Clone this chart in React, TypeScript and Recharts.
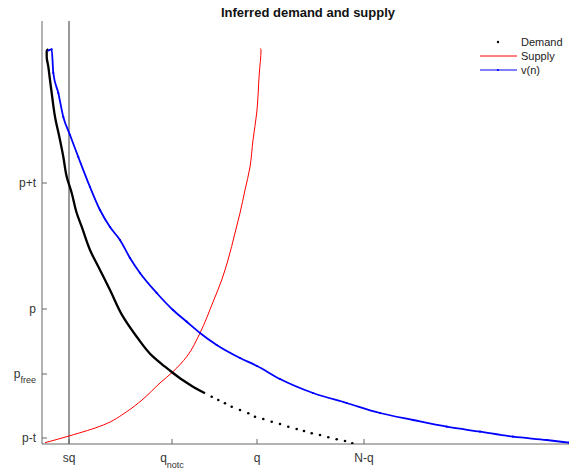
import { ComposedChart, Line, XAxis, YAxis, ReferenceLine } from 'recharts';

const FONT = '"Liberation Sans", Arial, Helvetica, sans-serif';
const AXIS = '#666';

// tick positions + labels (main text, subscript)
const xTicks = [27, 130, 215, 322];
const xTickLabels = [['sq', ''], ['q', 'notc'], ['q', ''], ['N-q', '']];
const yTicks = [6, 70, 135, 261];
const yTickLabels = [['p-t', ''], ['p', 'free'], ['p', ''], ['p+t', '']];
const sqLevel = 27;

// demand, dense part (reads as a solid line)
const demandSolid: [number, number][] = [
  [6.3, 394.7], [4.7, 393.3], [4.7, 387.3], [6.3, 377.3], [8, 364], [9.7, 351],
  [13, 327.3], [18, 304], [21.3, 287.3], [24.7, 267.3], [29.7, 251], [34.7, 231],
  [39.7, 217.3], [48, 194], [58, 174], [68, 154], [81, 127.3], [94.7, 107.3],
  [111, 87.3], [123, 77.3], [131, 71], [141, 63.7], [151, 57.3], [163, 50.7],
];

// demand, sparse tail (separate dots)
const demandDots: [number, number][] = [
  [169.7, 47.3], [176.3, 44], [183, 40.7], [189.7, 37.3], [198, 34], [206.3, 30.7],
  [213, 27.3], [221.3, 25], [229.7, 22.3], [238, 20], [246.3, 17.3], [254.7, 15],
  [262, 13], [269.7, 10.7], [278, 9], [286.3, 6.7], [294.7, 4.7], [303, 3], [310.3, 0.7],
];

const supply: [number, number][] = [
  [3, 1.3], [27, 8], [61.3, 19], [84.7, 32.3], [100, 44], [118, 61], [131, 72.3],
  [144.7, 87.3], [158, 111], [171, 142], [179.7, 164], [186, 184], [193, 211],
  [198, 231], [203, 254], [208, 277], [211, 304], [214.7, 331], [217.3, 371],
  [219, 394], [218.3, 395.5],
];

const vn: [number, number][] = [
  [6.5, 393.5], [9.7, 394.7], [11.3, 371], [16.3, 351], [21.3, 327], [28, 309],
  [36.3, 287], [48, 257], [58, 234], [68, 217], [78, 204], [88, 186], [98, 171],
  [114.7, 151], [131, 134], [144.7, 122.3], [158, 111], [174.7, 99], [198, 86],
  [215, 78], [238, 65], [271, 51], [304.7, 41], [338, 31], [371, 24], [404.7, 17.3],
  [438, 12.3], [471, 7.3], [504.7, 4], [527, 1.3],
];

const toPts = (a: [number, number][]) => a.map(([x, y]) => ({ x, y }));

function XTick({ x, y, payload }: any) {
  const i = xTicks.indexOf(payload.value);
  const [main, sub] = xTickLabels[i] ?? [String(payload.value), ''];
  return (
    <g>
      <line x1={x} x2={x} y1={y} y2={y - 5} stroke={AXIS} />
      <text x={x} y={y + 17.5} textAnchor="middle" fontSize={12} fill="#333" fontFamily={FONT}>
        {main}
        {sub && <tspan fontSize={9} dy={6}>{sub}</tspan>}
      </text>
    </g>
  );
}

function YTick({ x, y, payload }: any) {
  const i = yTicks.indexOf(payload.value);
  const [main, sub] = yTickLabels[i] ?? [String(payload.value), ''];
  return (
    <g>
      <line x1={x} x2={x + 5} y1={y} y2={y} stroke={AXIS} />
      <text x={x - 6} y={y + 4} textAnchor="end" fontSize={12} fill="#333" fontFamily={FONT}>
        {main}
        {sub && <tspan fontSize={9} dy={5}>{sub}</tspan>}
      </text>
    </g>
  );
}

function LegendRow({ label, children }: { label: string; children: any }) {
  return (
    <div style={{ display: 'flex', alignItems: 'center', height: 14 }}>
      <svg width={42} height={14}>{children}</svg>
      <span style={{ marginLeft: 1, fontSize: 11, color: '#222' }}>{label}</span>
    </div>
  );
}

export default function App() {
  return (
    <div style={{ position: 'absolute', left: 0, top: 0, width: 569, height: 473, fontFamily: FONT, background: '#fff' }}>
      <div style={{ position: 'absolute', left: 208, top: 5, width: 200, textAlign: 'center', fontSize: 13, fontWeight: 'bold', lineHeight: '16px', color: '#111' }}>
        Inferred demand and supply
      </div>

      <ComposedChart width={569} height={473} margin={{ top: 21, right: 0, bottom: 0, left: 0 }}>
        <XAxis
          type="number"
          dataKey="x"
          domain={[0, 527]}
          ticks={xTicks}
          interval={0}
          allowDataOverflow
          height={29}
          tickSize={0}
          tickMargin={0}
          tick={<XTick />}
          axisLine={{ stroke: AXIS, strokeWidth: 1 }}
          tickLine={false}
        />
        <YAxis
          type="number"
          dataKey="y"
          domain={[0, 423]}
          ticks={yTicks}
          interval={0}
          allowDataOverflow
          width={42}
          tickSize={0}
          tickMargin={0}
          tick={<YTick />}
          axisLine={{ stroke: AXIS, strokeWidth: 1 }}
          tickLine={false}
        />
        <ReferenceLine x={sqLevel} stroke="#777" strokeWidth={1.5} />
        <Line
          data={toPts(supply)}
          dataKey="y"
          type="monotoneY"
          stroke="#ff0000"
          strokeWidth={1}
          dot={false}
          isAnimationActive={false}
        />
        <Line
          data={toPts(vn)}
          dataKey="y"
          type="monotoneX"
          stroke="#0000ff"
          strokeWidth={1.8}
          dot={{ r: 1.1, fill: '#0000ff', stroke: 'none' }}
          isAnimationActive={false}
        />
        <Line
          data={toPts(demandSolid)}
          dataKey="y"
          type="monotoneY"
          stroke="#000"
          strokeWidth={2.3}
          dot={false}
          isAnimationActive={false}
        />
        <Line
          data={toPts(demandDots)}
          dataKey="y"
          type="linear"
          stroke="none"
          dot={{ r: 1.3, fill: '#000', stroke: 'none' }}
          isAnimationActive={false}
        />
      </ComposedChart>

      <div style={{ position: 'absolute', left: 478, top: 35 }}>
        <LegendRow label="Demand">
          <circle cx={20} cy={7} r={1.2} fill="#000" />
        </LegendRow>
        <LegendRow label="Supply">
          <line x1={2} x2={39} y1={7} y2={7} stroke="#ff0000" strokeWidth={1} />
        </LegendRow>
        <LegendRow label="v(n)">
          <line x1={2} x2={39} y1={7} y2={7} stroke="#0000ff" strokeWidth={1} />
          <circle cx={20} cy={7} r={1.1} fill="#0000ff" />
        </LegendRow>
      </div>
    </div>
  );
}
